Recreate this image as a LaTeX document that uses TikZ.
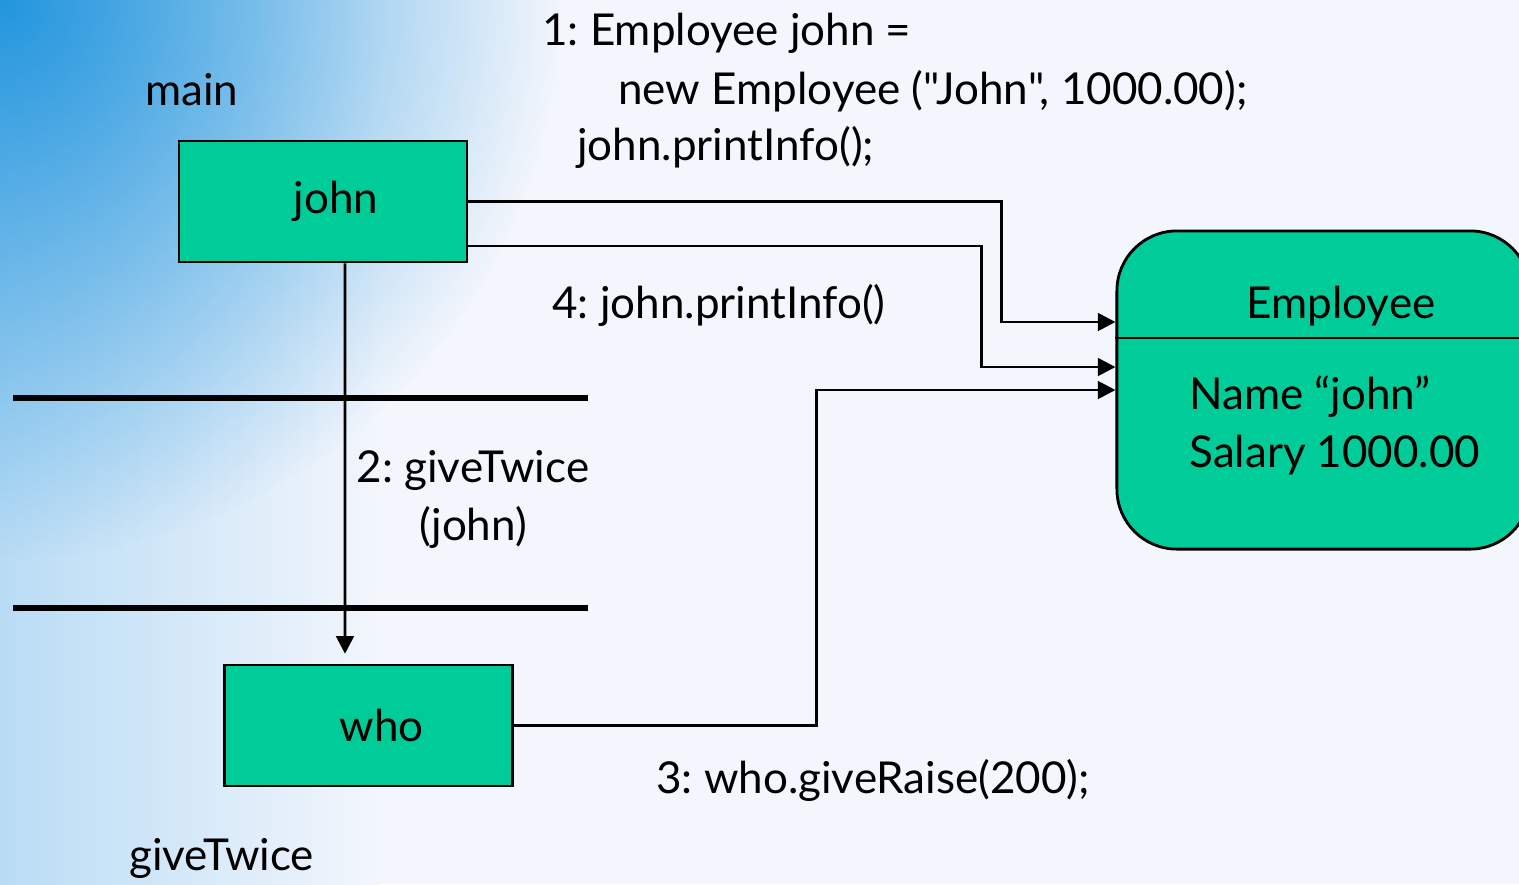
\documentclass[tikz,border=0pt]{standalone}
\usepackage{fontspec}
\setmainfont{Lato}[Ligatures=TeXOff]
\usetikzlibrary{arrows.meta,calc,positioning,fadings}
\definecolor{boxgreen}{RGB}{0,204,153}
\definecolor{bgblue}{RGB}{35,150,222}
\definecolor{bglight}{RGB}{185,220,245}
\definecolor{bgwhite}{RGB}{243,246,252}
\tikzfading[name=fade corner, inner color=transparent!0, outer color=transparent!100]
\frenchspacing

\begin{document}
\begin{tikzpicture}[x=0.01cm,y=-0.01cm,line width=0.8pt,
    every node/.style={font=\fontsize{12.5}{16.3}\selectfont, inner sep=0pt},
    varbox/.style={draw, fill=boxgreen, line width=0.7pt,
                   minimum width=2.88cm, minimum height=1.21cm},
    objbox/.style={draw, fill=boxgreen, rounded corners=0.6cm,
                   minimum width=4.13cm, minimum height=3.18cm},
    link/.style={-{Triangle[length=5pt,width=5pt]}},
    frame/.style={line width=1.6pt}]
    % background
    \useasboundingbox (0,0) rectangle (1519,884);
    \begin{scope}
      \clip (0,0) rectangle (1519,884);
      \fill[bgwhite] (0,0) rectangle (1519,884);
      \shade[left color=bglight, right color=bgwhite] (0,0) rectangle (380,884);
      \fill[bgblue, path fading=fade corner] (0,0) circle (560);
    \end{scope}

    % stack frames
    \draw[frame] (13,398) -- (588,398);
    \draw[frame] (13,608) -- (588,608);
    \node[anchor=base west] (main) at (144,105) {main};
    \node[anchor=base west] (give) at (128,870) {giveTwice};

    % variables and object
    \node[varbox] (john) at (323,201.5) {\hspace*{0.26cm}john};
    \node[varbox] (who) at (368.5,725.5) {\hspace*{0.26cm}who};
    \node[objbox] (emp) at (1323.5,390) {};
    \coordinate (divy) at (0,338);
    \draw (emp.west |- divy) -- (emp.east |- divy);
    \node[anchor=base] (empname) at (1341,318) {Employee};
    \node[anchor=base west, align=left] (empdata) at (1188,467)
      {Name “john”\\Salary 1000.00};

    % messages
    \node[anchor=base west] (msg1) at (541,45) {1: Employee john =};
    \node[anchor=base west] (msg1b) at (617,104) {new Employee ("John", 1000.00);};
    \node[anchor=base west] (msg1c) at (576,160) {john.printInfo();};
    \node[anchor=base west] (msg4) at (551,318) {4: john.printInfo()};
    \node[anchor=base, align=center] (msg2) at (473,540) {2: giveTwice\\(john)};
    \node[anchor=base west] (msg3) at (655,793) {3: who.giveRaise(200);};

    % references
    \coordinate (in1) at ($(emp.west)+(0,-68)$);
    \coordinate (in2) at ($(emp.west)+(0,-23)$);
    \draw[link] (john.east) -| ++(533,120.5) -- (in1);
    \draw[link] ($(john.east)+(0,44.5)$) -| ++(513,121) -- (in2);
    \draw[link] (who.east) -| ++(303,-335.5) -- (emp.west);
    \draw[link] ([xshift=0.22cm]john.south) -- ([xshift=-0.235cm,yshift=0.1cm]who.north);
\end{tikzpicture}
\end{document}
